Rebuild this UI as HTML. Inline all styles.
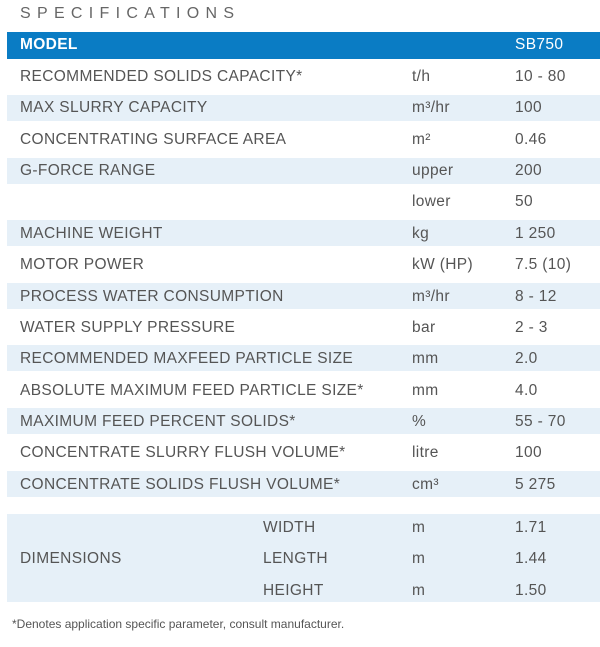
<!DOCTYPE html>
<html><head><style>
body{margin:0;width:600px;height:647px;background:#fff;position:relative;overflow:hidden;font-family:"Liberation Sans",sans-serif;color:#555;}
.t{position:absolute;font-size:15.5px;letter-spacing:0.35px;line-height:20px;white-space:nowrap;}
.band{position:absolute;left:7px;width:593px;height:26px;background:#e6f0f8;}
#title{position:absolute;left:20px;top:5px;font-size:16px;letter-spacing:6.3px;color:#666;}
#hdr{position:absolute;left:7px;top:32px;width:593px;height:27px;background:#0a7cc4;}
</style></head><body>
<div id="title">SPECIFICATIONS</div>
<div id="hdr"></div>
<div class="t" style="left:20px;top:35px;color:#fff;font-weight:bold;">MODEL</div>
<div class="t" style="left:515px;top:35px;color:#fff;">SB750</div>

<div class="band" style="top:95px"></div>
<div class="band" style="top:158px"></div>
<div class="band" style="top:220px"></div>
<div class="band" style="top:283px"></div>
<div class="band" style="top:345px"></div>
<div class="band" style="top:408px"></div>
<div class="band" style="top:471px"></div>
<div class="band" style="top:514px;height:88px"></div>

<div class="t" style="left:20px;top:67px">RECOMMENDED SOLIDS CAPACITY*</div><div class="t" style="left:412px;top:67px">t/h</div><div class="t" style="left:515px;top:67px">10 - 80</div>
<div class="t" style="left:20px;top:98px">MAX SLURRY CAPACITY</div><div class="t" style="left:412px;top:98px">m³/hr</div><div class="t" style="left:515px;top:98px">100</div>
<div class="t" style="left:20px;top:130px">CONCENTRATING SURFACE AREA</div><div class="t" style="left:412px;top:130px">m²</div><div class="t" style="left:515px;top:130px">0.46</div>
<div class="t" style="left:20px;top:161px">G-FORCE RANGE</div><div class="t" style="left:412px;top:161px">upper</div><div class="t" style="left:515px;top:161px">200</div>
<div class="t" style="left:412px;top:192px">lower</div><div class="t" style="left:515px;top:192px">50</div>
<div class="t" style="left:20px;top:224px">MACHINE WEIGHT</div><div class="t" style="left:412px;top:224px">kg</div><div class="t" style="left:515px;top:224px">1 250</div>
<div class="t" style="left:20px;top:255px">MOTOR POWER</div><div class="t" style="left:412px;top:255px">kW (HP)</div><div class="t" style="left:515px;top:255px">7.5 (10)</div>
<div class="t" style="left:20px;top:287px">PROCESS WATER CONSUMPTION</div><div class="t" style="left:412px;top:287px">m³/hr</div><div class="t" style="left:515px;top:287px">8 - 12</div>
<div class="t" style="left:20px;top:318px">WATER SUPPLY PRESSURE</div><div class="t" style="left:412px;top:318px">bar</div><div class="t" style="left:515px;top:318px">2 - 3</div>
<div class="t" style="left:20px;top:349px">RECOMMENDED MAXFEED PARTICLE SIZE</div><div class="t" style="left:412px;top:349px">mm</div><div class="t" style="left:515px;top:349px">2.0</div>
<div class="t" style="left:20px;top:381px">ABSOLUTE MAXIMUM FEED PARTICLE SIZE*</div><div class="t" style="left:412px;top:381px">mm</div><div class="t" style="left:515px;top:381px">4.0</div>
<div class="t" style="left:20px;top:412px">MAXIMUM FEED PERCENT SOLIDS*</div><div class="t" style="left:412px;top:412px">%</div><div class="t" style="left:515px;top:412px">55 - 70</div>
<div class="t" style="left:20px;top:443px">CONCENTRATE SLURRY FLUSH VOLUME*</div><div class="t" style="left:412px;top:443px">litre</div><div class="t" style="left:515px;top:443px">100</div>
<div class="t" style="left:20px;top:475px">CONCENTRATE SOLIDS FLUSH VOLUME*</div><div class="t" style="left:412px;top:475px">cm³</div><div class="t" style="left:515px;top:475px">5 275</div>

<div class="t" style="left:263px;top:518px">WIDTH</div><div class="t" style="left:412px;top:518px">m</div><div class="t" style="left:515px;top:518px">1.71</div>
<div class="t" style="left:20px;top:549px">DIMENSIONS</div>
<div class="t" style="left:263px;top:549px">LENGTH</div><div class="t" style="left:412px;top:549px">m</div><div class="t" style="left:515px;top:549px">1.44</div>
<div class="t" style="left:263px;top:581px">HEIGHT</div><div class="t" style="left:412px;top:581px">m</div><div class="t" style="left:515px;top:581px">1.50</div>

<div class="t" style="left:12px;top:614px;font-size:12px;letter-spacing:0">*Denotes application specific parameter, consult manufacturer.</div>
</body></html>
